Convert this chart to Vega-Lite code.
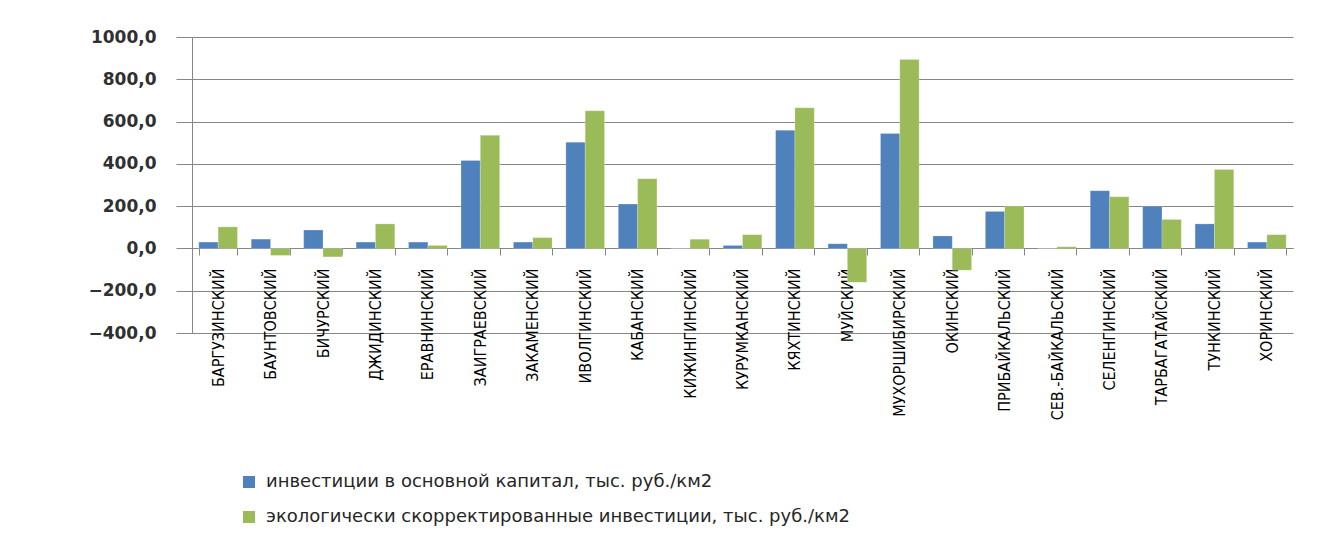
{
  "$schema": "https://vega.github.io/schema/vega-lite/v6.json",
  "width": 1101,
  "height": 296,
  "autosize": {"type": "none"},
  "padding": {"left": 192, "top": 37, "right": 36, "bottom": 208},
  "background": "white",
  "config": {"view": {"stroke": null}},
  "data": {
    "values": [
      {"district": "БАРГУЗИНСКИЙ", "series": "инвестиции в основной капитал, тыс. руб./км2", "value": 30},
      {"district": "БАРГУЗИНСКИЙ", "series": "экологически скорректированные инвестиции, тыс. руб./км2", "value": 102},
      {"district": "БАУНТОВСКИЙ", "series": "инвестиции в основной капитал, тыс. руб./км2", "value": 44},
      {"district": "БАУНТОВСКИЙ", "series": "экологически скорректированные инвестиции, тыс. руб./км2", "value": -33},
      {"district": "БИЧУРСКИЙ", "series": "инвестиции в основной капитал, тыс. руб./км2", "value": 87},
      {"district": "БИЧУРСКИЙ", "series": "экологически скорректированные инвестиции, тыс. руб./км2", "value": -40},
      {"district": "ДЖИДИНСКИЙ", "series": "инвестиции в основной капитал, тыс. руб./км2", "value": 30},
      {"district": "ДЖИДИНСКИЙ", "series": "экологически скорректированные инвестиции, тыс. руб./км2", "value": 116},
      {"district": "ЕРАВНИНСКИЙ", "series": "инвестиции в основной капитал, тыс. руб./км2", "value": 30},
      {"district": "ЕРАВНИНСКИЙ", "series": "экологически скорректированные инвестиции, тыс. руб./км2", "value": 14},
      {"district": "ЗАИГРАЕВСКИЙ", "series": "инвестиции в основной капитал, тыс. руб./км2", "value": 416},
      {"district": "ЗАИГРАЕВСКИЙ", "series": "экологически скорректированные инвестиции, тыс. руб./км2", "value": 535},
      {"district": "ЗАКАМЕНСКИЙ", "series": "инвестиции в основной капитал, тыс. руб./км2", "value": 30},
      {"district": "ЗАКАМЕНСКИЙ", "series": "экологически скорректированные инвестиции, тыс. руб./км2", "value": 51},
      {"district": "ИВОЛГИНСКИЙ", "series": "инвестиции в основной капитал, тыс. руб./км2", "value": 502},
      {"district": "ИВОЛГИНСКИЙ", "series": "экологически скорректированные инвестиции, тыс. руб./км2", "value": 651},
      {"district": "КАБАНСКИЙ", "series": "инвестиции в основной капитал, тыс. руб./км2", "value": 210},
      {"district": "КАБАНСКИЙ", "series": "экологически скорректированные инвестиции, тыс. руб./км2", "value": 330},
      {"district": "КИЖИНГИНСКИЙ", "series": "инвестиции в основной капитал, тыс. руб./км2", "value": 0},
      {"district": "КИЖИНГИНСКИЙ", "series": "экологически скорректированные инвестиции, тыс. руб./км2", "value": 44},
      {"district": "КУРУМКАНСКИЙ", "series": "инвестиции в основной капитал, тыс. руб./км2", "value": 14},
      {"district": "КУРУМКАНСКИЙ", "series": "экологически скорректированные инвестиции, тыс. руб./км2", "value": 65},
      {"district": "КЯХТИНСКИЙ", "series": "инвестиции в основной капитал, тыс. руб./км2", "value": 559},
      {"district": "КЯХТИНСКИЙ", "series": "экологически скорректированные инвестиции, тыс. руб./км2", "value": 665},
      {"district": "МУЙСКИЙ", "series": "инвестиции в основной капитал, тыс. руб./км2", "value": 22},
      {"district": "МУЙСКИЙ", "series": "экологически скорректированные инвестиции, тыс. руб./км2", "value": -160},
      {"district": "МУХОРШИБИРСКИЙ", "series": "инвестиции в основной капитал, тыс. руб./км2", "value": 544},
      {"district": "МУХОРШИБИРСКИЙ", "series": "экологически скорректированные инвестиции, тыс. руб./км2", "value": 894},
      {"district": "ОКИНСКИЙ", "series": "инвестиции в основной капитал, тыс. руб./км2", "value": 59},
      {"district": "ОКИНСКИЙ", "series": "экологически скорректированные инвестиции, тыс. руб./км2", "value": -103},
      {"district": "ПРИБАЙКАЛЬСКИЙ", "series": "инвестиции в основной капитал, тыс. руб./км2", "value": 175},
      {"district": "ПРИБАЙКАЛЬСКИЙ", "series": "экологически скорректированные инвестиции, тыс. руб./км2", "value": 200},
      {"district": "СЕВ.-БАЙКАЛЬСКИЙ", "series": "инвестиции в основной капитал, тыс. руб./км2", "value": 0},
      {"district": "СЕВ.-БАЙКАЛЬСКИЙ", "series": "экологически скорректированные инвестиции, тыс. руб./км2", "value": 8},
      {"district": "СЕЛЕНГИНСКИЙ", "series": "инвестиции в основной капитал, тыс. руб./км2", "value": 273},
      {"district": "СЕЛЕНГИНСКИЙ", "series": "экологически скорректированные инвестиции, тыс. руб./км2", "value": 244},
      {"district": "ТАРБАГАТАЙСКИЙ", "series": "инвестиции в основной капитал, тыс. руб./км2", "value": 200},
      {"district": "ТАРБАГАТАЙСКИЙ", "series": "экологически скорректированные инвестиции, тыс. руб./км2", "value": 137},
      {"district": "ТУНКИНСКИЙ", "series": "инвестиции в основной капитал, тыс. руб./км2", "value": 116},
      {"district": "ТУНКИНСКИЙ", "series": "экологически скорректированные инвестиции, тыс. руб./км2", "value": 373},
      {"district": "ХОРИНСКИЙ", "series": "инвестиции в основной капитал, тыс. руб./км2", "value": 30},
      {"district": "ХОРИНСКИЙ", "series": "экологически скорректированные инвестиции, тыс. руб./км2", "value": 65}
    ]
  },
  "mark": {"type": "bar", "stroke": "white", "strokeOpacity": 0.35, "strokeWidth": 0.6},
  "encoding": {
    "x": {
      "field": "district",
      "type": "nominal",
      "sort": null,
      "scale": {"paddingInner": 0.263, "paddingOuter": 0.13},
      "axis": {
        "title": null,
        "offset": -85,
        "labelAngle": -90,
        "labelFont": "Liberation Sans Narrow, DejaVu Sans Condensed, Liberation Sans",
        "labelFontSize": 16,
        "labelColor": "black",
        "labelPadding": 13,
        "tickBand": "extent",
        "tickSize": 7,
        "tickColor": "#868686",
        "domainColor": "#868686",
        "domainWidth": 1.2,
        "grid": false
      }
    },
    "xOffset": {"field": "series", "type": "nominal", "sort": null},
    "y": {
      "field": "value",
      "type": "quantitative",
      "scale": {"domain": [-400, 1000], "nice": false, "zero": false},
      "axis": {
        "title": null,
        "values": [-400, -200, 0, 200, 400, 600, 800, 1000],
        "labelExpr": "replace(format(datum.value, '.1f'), '.', ',')",
        "labelFont": "DejaVu Sans",
        "labelFontSize": 17,
        "labelFontWeight": "bold",
        "labelColor": "#303030",
        "labelPadding": 20,
        "tickSize": 16,
        "tickColor": "#868686",
        "domainColor": "#868686",
        "grid": true,
        "gridColor": "#868686",
        "gridWidth": 1
      }
    },
    "color": {
      "field": "series",
      "type": "nominal",
      "sort": null,
      "scale": {"range": ["#4F81BD", "#9BBB59"]},
      "legend": {
        "title": null,
        "orient": "none",
        "legendX": 48,
        "legendY": 436,
        "direction": "vertical",
        "symbolType": "square",
        "symbolSize": 144,
        "symbolStrokeWidth": 0,
        "labelFont": "DejaVu Sans",
        "labelFontSize": 18,
        "labelColor": "#262626",
        "labelOffset": 8,
        "labelLimit": 1200,
        "rowPadding": 17
      }
    }
  }
}
